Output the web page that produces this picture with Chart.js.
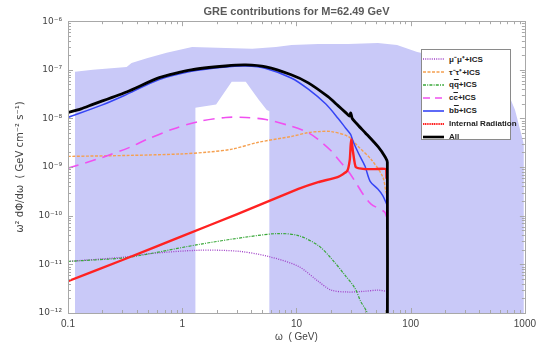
<!DOCTYPE html>
<html>
<head>
<meta charset="utf-8">
<script src="https://cdn.jsdelivr.net/npm/chart.js@4.4.1/dist/chart.umd.min.js"></script>
<style>
  body { margin: 0; background: #fff; }
  #wrap { position: relative; width: 541px; height: 343px; }
  #legend {
    position: absolute; left: 421px; top: 49px; width: 90px; height: 91px;
    box-sizing: border-box; border: 1px solid #8a8a8a; background: #fff;
    padding: 2px 0 0 1px; font: bold 8px "Liberation Sans", Arial, sans-serif; color: #222;
  }
  #legend .row { height: 13px; display: flex; align-items: center; white-space: nowrap; }
  #legend svg { margin-right: 5px; flex: none; }
  .ov { text-decoration: overline; }
</style>
</head>
<body>
<div id="wrap">
  <canvas id="chart" width="541" height="343"></canvas>
  <div id="legend">
    <div class="row"><svg width="21" height="6"><line x1="0" y1="3" x2="21" y2="3" stroke="#a040c8" stroke-width="1.4" stroke-dasharray="1 1.2"/></svg><span>μ⁻μ⁺+ICS</span></div>
    <div class="row"><svg width="21" height="6"><line x1="0" y1="3" x2="21" y2="3" stroke="#f5a050" stroke-width="1.5" stroke-dasharray="3 1.5"/></svg><span>τ⁻τ⁺+ICS</span></div>
    <div class="row"><svg width="21" height="6"><line x1="0" y1="3" x2="21" y2="3" stroke="#3aa83a" stroke-width="1.4" stroke-dasharray="3 1.2 1 1.2"/></svg><span>q<span class="ov">q</span>+ICS</span></div>
    <div class="row"><svg width="21" height="6"><line x1="0" y1="3" x2="21" y2="3" stroke="#f050f0" stroke-width="1.6" stroke-dasharray="7 5"/></svg><span>c<span class="ov">c</span>+ICS</span></div>
    <div class="row"><svg width="21" height="6"><line x1="0" y1="3" x2="21" y2="3" stroke="#3545f5" stroke-width="1.6"/></svg><span>b<span class="ov">b</span>+ICS</span></div>
    <div class="row"><svg width="21" height="6"><line x1="0" y1="3" x2="21" y2="3" stroke="#ff2222" stroke-width="2.2" stroke-dasharray="1.2 0.6"/></svg><span>Internal Radiation</span></div>
    <div class="row"><svg width="21" height="6"><line x1="0" y1="3" x2="21" y2="3" stroke="#000" stroke-width="2.6"/></svg><span>All</span></div>
  </div>
</div>
<script>
// axis ticks
const xDecades = [0.1, 1, 10, 100, 1000];
const xTickLabels = ["0.1", "1", "10", "100", "1000"];
const yDecades = [1e-12, 1e-11, 1e-10, 1e-9, 1e-8, 1e-7, 1e-6];
const yTickLabels = ["10⁻¹²", "10⁻¹¹", "10⁻¹⁰", "10⁻⁹", "10⁻⁸", "10⁻⁷", "10⁻⁶"];

// omega (GeV) and omega^2 dPhi/domega (GeV cm^-2 s^-1)
const allW = [0.1, 0.13, 0.165, 0.33, 0.63, 1.2, 2.4, 3.6, 5.4, 9, 12.7, 18.9, 23, 27, 29.2, 29.9, 30.8, 35, 40, 52, 60, 62.49, 62.49];
const allF = [1.32e-8, 1.58e-8, 1.95e-8, 3.55e-8, 6.9e-8, 1.0e-7, 1.2e-7, 1.26e-7, 1.15e-7, 7.9e-8, 5.4e-8, 2.8e-8, 1.86e-8, 1.32e-8, 1.12e-8, 1.3e-8, 1.0e-8, 7.1e-9, 5.1e-9, 2.6e-9, 1.6e-9, 1.26e-9, 1e-13];

const bbW = [0.1, 0.2, 0.33, 0.63, 1.2, 2.4, 3.6, 5.4, 9, 12.7, 18, 23.2, 27, 29.8, 31.3, 35, 39.8, 44.2, 51.6, 57, 61.5];
const bbF = [1.05e-8, 1.9e-8, 3.16e-8, 6.3e-8, 9.3e-8, 1.15e-7, 1.2e-7, 1.07e-7, 6.8e-8, 4.0e-8, 2.0e-8, 1.0e-8, 6.3e-9, 4.7e-9, 3.4e-9, 1.9e-9, 1.05e-9, 5.1e-10, 3.55e-10, 2.6e-10, 1.74e-10];

const tauW = [0.1, 0.35, 0.96, 1.7, 2.73, 4.66, 9.06, 12.7, 15.5, 20.2, 28.3, 34.5, 45, 57, 60.6, 62.49];
const tauF = [1.66e-9, 1.74e-9, 1.86e-9, 2.04e-9, 2.34e-9, 3.24e-9, 4.27e-9, 5.13e-9, 5.37e-9, 5.37e-9, 4.27e-9, 2.69e-9, 1.45e-9, 6.3e-10, 3.2e-10, 2.5e-10];

const ccW = [0.1, 0.2, 0.35, 0.49, 0.82, 1.41, 2.41, 3.6, 5.4, 9.06, 12.7, 15.5, 20.2, 23.2, 28.3, 32.6, 38.2, 45, 59, 61.5];
const ccF = [9.5e-10, 1.58e-9, 2.57e-9, 3.7e-9, 6.0e-9, 8.7e-9, 1.05e-8, 1.05e-8, 9.5e-9, 6.9e-9, 5.1e-9, 3.7e-9, 2.14e-9, 1.45e-9, 8.3e-10, 5.1e-10, 2.8e-10, 1.74e-10, 1.2e-10, 9.5e-11];

const irW = [0.1, 0.3, 1, 3, 10.4, 15.5, 23.2, 27.8, 29.3, 29.8, 30.2, 30.8, 31.3, 33.1, 39.8, 48.6, 60.6, 61.5];
const irF = [4.5e-12, 1.23e-11, 3.8e-11, 1.07e-10, 3.55e-10, 4.9e-10, 6.3e-10, 8.3e-10, 1.41e-9, 2.7e-9, 3.7e-9, 2.8e-9, 2.04e-9, 1.0e-9, 9.1e-10, 9.1e-10, 9.1e-10, 5.8e-10];

const qqW = [0.1, 0.3, 0.52, 1.4, 3.8, 6.9, 10.4, 15.5, 20.2, 26.6, 32.6, 36.5, 41, 45];
const qqF = [1.15e-11, 1.35e-11, 1.66e-11, 2.57e-11, 3.7e-11, 4.3e-11, 3.9e-11, 2.45e-11, 1.32e-11, 6.0e-12, 3.2e-12, 1.74e-12, 1.1e-12, 6.3e-13];

const muW = [0.1, 0.3, 0.52, 1.4, 3.1, 5.7, 10.4, 15.5, 20.2, 28.3, 39.8, 51.6, 61.5];
const muF = [1.15e-11, 1.4e-11, 1.66e-11, 1.95e-11, 1.86e-11, 1.45e-11, 9.1e-12, 4.5e-12, 2.95e-12, 2.7e-12, 2.8e-12, 2.95e-12, 2.8e-12];

// shaded band (upper edge) and the white gap inside it
const bandW = [0.115, 0.165, 0.326, 0.36, 0.49, 0.73, 1.22, 2.41, 4.1, 6.6, 9.06, 15.5, 28.3, 51.6, 76, 114, 300, 500, 720, 820, 980];
const bandF = [9.1e-8, 1.0e-7, 1.15e-7, 1.38e-7, 1.74e-7, 2.24e-7, 2.95e-7, 2.8e-7, 2.7e-7, 2.95e-7, 3.24e-7, 3.4e-7, 3.4e-7, 3.55e-7, 3.24e-7, 2.34e-7, 1.41e-7, 7.1e-8, 3.1e-8, 1.5e-8, 2.95e-9];
const gapW = [1.3, 1.98, 2.71, 3.6, 4.66, 5.5, 5.82];
const gapF = [1.66e-8, 1.93e-8, 5.7e-8, 5.7e-8, 2.45e-8, 1.5e-8, 1.4e-8];

Chart.defaults.font.family = '"Liberation Sans", Arial, sans-serif';

function pts(w, f) {
  return w.map((x, i) => ({ x, y: f[i] }));
}

function curve(label, w, f, color, width, dash, order, tension) {
  return {
    label, data: pts(w, f), borderColor: color, borderWidth: width,
    borderDash: dash, pointRadius: 0, fill: false, order, tension: tension ?? 0.3
  };
}

function isDecade(v) {
  const l = Math.log10(v);
  return Math.abs(l - Math.round(l)) < 1e-6;
}

function minorTicks(decades) {
  const out = [];
  decades.forEach((d, i) => {
    if (i === decades.length - 1) { out.push(d); return; }
    for (let k = 1; k <= 9; k++) out.push(d * k);
  });
  return out.map(v => ({ value: v }));
}

function labelFor(v, decades, labels) {
  const i = decades.findIndex(d => Math.abs(Math.log10(d) - Math.log10(v)) < 1e-6);
  return i >= 0 ? labels[i] : "";
}

const frameTicks = {
  id: "frameTicks",
  afterDatasetsDraw(chart) {
    const { ctx, chartArea: a, scales: { x, y } } = chart;
    ctx.save();
    ctx.strokeStyle = "#a8a8a8";
    ctx.lineWidth = 1;
    ctx.beginPath();
    x.ticks.forEach(t => {
      const px = Math.round(x.getPixelForValue(t.value)) + 0.5;
      const len = isDecade(t.value) ? 5 : 3;
      ctx.moveTo(px, a.bottom); ctx.lineTo(px, a.bottom - len);
      ctx.moveTo(px, a.top); ctx.lineTo(px, a.top + len);
    });
    y.ticks.forEach(t => {
      const py = Math.round(y.getPixelForValue(t.value)) + 0.5;
      const len = isDecade(t.value) ? 5 : 3;
      ctx.moveTo(a.left, py); ctx.lineTo(a.left + len, py);
      ctx.moveTo(a.right, py); ctx.lineTo(a.right - len, py);
    });
    ctx.stroke();
    ctx.strokeRect(Math.round(a.left) + 0.5, Math.round(a.top) + 0.5,
      Math.round(a.right - a.left), Math.round(a.bottom - a.top));
    ctx.restore();
  }
};

new Chart(document.getElementById("chart"), {
  type: "line",
  data: {
    datasets: [
      { label: "band", data: pts(bandW, bandF), borderWidth: 0, pointRadius: 0,
        backgroundColor: "rgb(201,201,248)", fill: "start", order: 20, tension: 0 },
      { label: "gap", data: pts(gapW, gapF), borderWidth: 0, pointRadius: 0,
        backgroundColor: "#ffffff", fill: "start", order: 19, tension: 0 },
      curve("mu", muW, muF, "#a040c8", 1.3, [1, 1.3], 8),
      curve("tau", tauW, tauF, "#f5a050", 1.4, [3, 1.5], 7),
      curve("qq", qqW, qqF, "#3aa83a", 1.2, [3, 1.2, 1, 1.2], 6),
      curve("cc", ccW, ccF, "#f050f0", 1.6, [11, 7], 5),
      curve("bb", bbW, bbF, "#3545f5", 1.5, [], 4),
      curve("ir", irW, irF, "#ff2222", 2.4, [], 3, 0.15),
      curve("all", allW, allF, "#000000", 2.8, [], 1, 0.2)
    ]
  },
  options: {
    responsive: false,
    animation: false,
    devicePixelRatio: 1,
    layout: { padding: { left: 0, right: 13, top: 0, bottom: 0 } },
    plugins: {
      legend: { display: false },
      tooltip: { enabled: false },
      title: {
        display: true, fullSize: false,
        text: "GRE contributions for M=62.49 GeV",
        color: "#5a5a5a", font: { size: 11 }, padding: { top: 5, bottom: 3 }
      }
    },
    scales: {
      x: {
        type: "logarithmic", min: 0.1, max: 1000,
        afterBuildTicks: s => { s.ticks = minorTicks(xDecades); },
        afterFit: s => { s.height = 30; },
        ticks: {
          autoSkip: false, maxRotation: 0, padding: 5, color: "#444", font: { size: 10 },
          callback: v => labelFor(v, xDecades, xTickLabels)
        },
        grid: { display: false, drawTicks: false },
        border: { display: false },
        title: { display: true, text: "ω  ( GeV)", color: "#444", font: { size: 10 }, padding: { top: 0, bottom: 0 } }
      },
      y: {
        type: "logarithmic", min: 1e-12, max: 1e-6,
        afterBuildTicks: s => { s.ticks = minorTicks(yDecades); },
        afterFit: s => { s.width = 68; },
        ticks: {
          autoSkip: false, padding: 6, color: "#444",
          font: { size: 9, family: '"DejaVu Sans", sans-serif' },
          callback: v => labelFor(v, yDecades, yTickLabels)
        },
        grid: { display: false, drawTicks: false },
        border: { display: false },
        title: { display: true, text: "ω² dΦ/dω  ( GeV cm⁻² s⁻¹)", color: "#444",
          font: { size: 10, family: '"DejaVu Sans", sans-serif' }, padding: { top: 14, bottom: 0 } }
      }
    }
  },
  plugins: [frameTicks]
});
</script>
</body>
</html>
